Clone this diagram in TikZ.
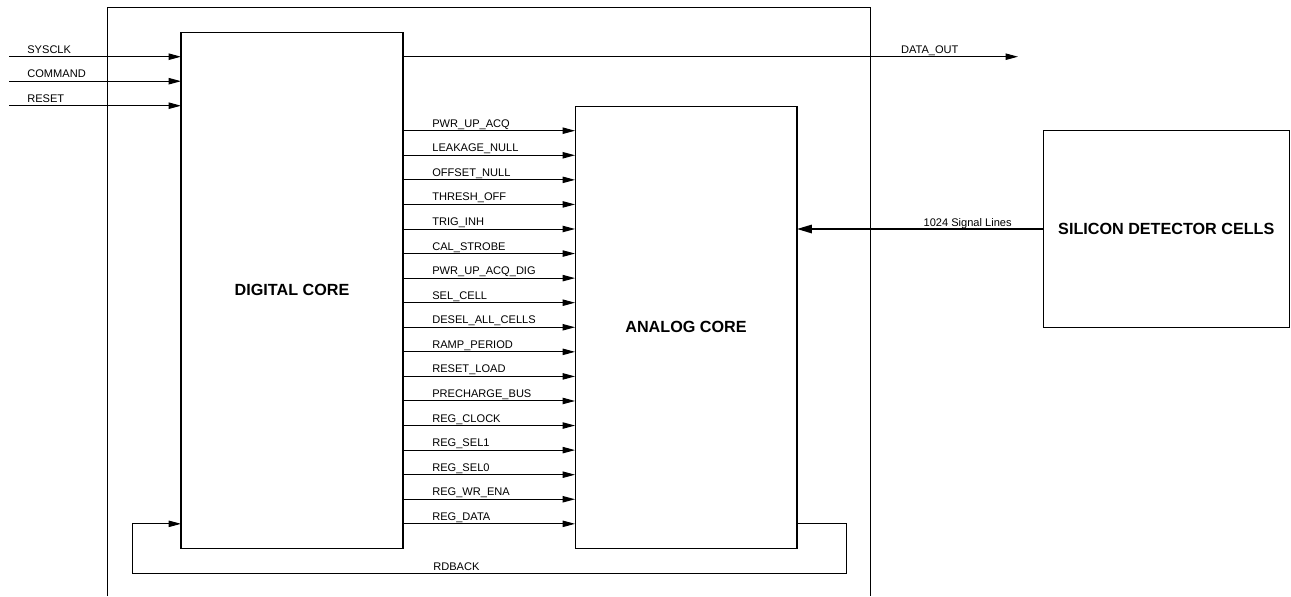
\documentclass[tikz,border=0pt]{standalone}
\usepackage{fontspec}
\setmainfont{Liberation Sans}
\usetikzlibrary{arrows.meta}
\tikzset{box/.style={rectangle,draw,line width=0.6pt,inner sep=0pt,outer sep=0pt,font=\fontsize{9.2}{11}\selectfont\bfseries},
  sig/.style={anchor=base west,inner sep=0pt,font=\fontsize{6.3}{7}\selectfont},
  line/.style={line width=0.55pt,-{Triangle[length=7pt,width=3.6pt]}},
  bigline/.style={line width=0.9pt,-{Triangle[length=8.5pt,width=4.8pt]}}}

\begin{document}
\begin{tikzpicture}[x=0.02cm,y=-0.02cm]
\useasboundingbox (0,0) rectangle (1291,596);
% chip frame, open at the bottom
\draw[line width=0.6pt] (107.7,596) -- (107.7,7.3) -- (870.7,7.3) -- (870.7,596);
\node[box, minimum width=4.44cm, minimum height=10.33cm] (dig) at (292,290.4) {DIGITAL CORE};
\node[box, minimum width=4.44cm, minimum height=8.85cm] (ana) at (686,327.4) {ANALOG CORE};
\node[box, minimum width=4.92cm, minimum height=3.93cm] (det) at (1166.3,229) {SILICON DETECTOR CELLS};
% inputs
\coordinate (sysclk) at (9,56.7);
\coordinate (command) at (9,81.2);
\coordinate (reset) at (9,105.7);
\coordinate (dout) at (1018,56.7);
\draw[line] (sysclk) -- (sysclk -| dig.west);
\draw[line] (command) -- (command -| dig.west);
\draw[line] (reset) -- (reset -| dig.west);
\node[sig] (l-sysclk) at (27,53.3) {SYSCLK};
\node[sig] (l-command) at (27,77.8) {COMMAND};
\node[sig] (l-reset) at (27,102.3) {RESET};
\draw[line] (dout -| dig.east) -- (dout);
\node[sig] (l-dout) at (900.7,53.3) {DATA\_OUT};
% control lines
\foreach \s [count=\i] in {PWR\_UP\_ACQ, LEAKAGE\_NULL, OFFSET\_NULL, THRESH\_OFF, TRIG\_INH,
  CAL\_STROBE, PWR\_UP\_ACQ\_DIG, SEL\_CELL, DESEL\_ALL\_CELLS, RAMP\_PERIOD, RESET\_LOAD,
  PRECHARGE\_BUS, REG\_CLOCK, REG\_SEL1, REG\_SEL0, REG\_WR\_ENA, REG\_DATA} {
  \pgfmathsetmacro\yy{130.7+(\i-1)*24.57}
  \coordinate (y\i) at (0,\yy);
  \draw[line] (dig.east |- y\i) -- (ana.west |- y\i);
  \node[sig] (s\i) at (432,\yy-3.5) {\s};
}
% detector signals
\draw[bigline] (det.west) -- (ana.east |- det.west);
\node[sig, anchor=base east] (l-lines) at (1012,226) {1024 Signal Lines};
% read back
\coordinate (rdr) at (846,573);
\coordinate (rdl) at (132.3,573);
\draw[line] (ana.east |- y17) -| (rdr) -- (rdl) |- (dig.west |- y17);
\node[sig] (l-rdback) at (433,570) {RDBACK};
\end{tikzpicture}
\end{document}
